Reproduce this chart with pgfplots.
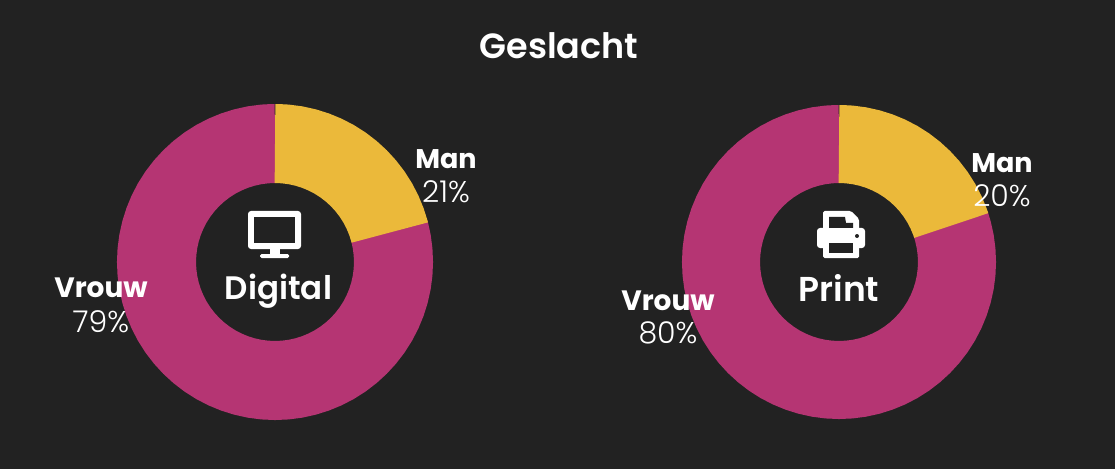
\documentclass[border=0pt]{standalone}
\usepackage{fontspec}
\setmainfont{Poppins}
\newfontfamily\lightfont{Poppins Light}
\newfontfamily\semifont{Poppins SemiBold}
\newfontfamily\boldfont{Poppins Bold}
\usepackage{pgfplots}
\pgfplotsset{compat=1.18}
\usepgfplotslibrary{polar}
\definecolor{bg}{HTML}{222222}
\definecolor{roze}{HTML}{B53573}
\definecolor{geel}{HTML}{EBB93A}

\pgfplotsset{donut/.style={
    hide axis, scale only axis, width=320pt, height=320pt,
    ymin=0, ymax=160, xmin=0, xmax=360, clip=false, anchor=origin}}

\begin{document}
\begin{tikzpicture}[x=1pt,y=1pt]
\fill[bg] (0,0) rectangle (1115,469);

% Digital: 21 / 79
\begin{polaraxis}[donut, at={(275pt,207pt)}]
\addplot[roze, line width=79pt, no marks] coordinates {
(15.4,118.5)(14.4,118.5)(10,118.5)(5,118.5)(0,118.5)(-5,118.5)(-10,118.5)(-15,118.5)(-20,118.5)(-25,118.5)(-30,118.5)(-35,118.5)
(-40,118.5)(-45,118.5)(-50,118.5)(-55,118.5)(-60,118.5)(-65,118.5)(-70,118.5)(-75,118.5)(-80,118.5)(-85,118.5)(-90,118.5)(-95,118.5)
(-100,118.5)(-105,118.5)(-110,118.5)(-115,118.5)(-120,118.5)(-125,118.5)(-130,118.5)(-135,118.5)(-140,118.5)(-145,118.5)(-150,118.5)
(-155,118.5)(-160,118.5)(-165,118.5)(-170,118.5)(-175,118.5)(-180,118.5)(-185,118.5)(-190,118.5)(-195,118.5)(-200,118.5)(-205,118.5)
(-210,118.5)(-215,118.5)(-220,118.5)(-225,118.5)(-230,118.5)(-235,118.5)(-240,118.5)(-245,118.5)(-250,118.5)(-255,118.5)(-260,118.5)
(-265,118.5)(-269,118.5)(-270,118.5)};
\addplot[geel, line width=79pt, no marks] coordinates {
(90,118.5)(89,118.5)(85,118.5)(80,118.5)(75,118.5)(70,118.5)(65,118.5)(60,118.5)(55,118.5)(50,118.5)(45,118.5)(40,118.5)
(35,118.5)(30,118.5)(25,118.5)(20,118.5)(15.4,118.5)(14.4,118.5)};
\end{polaraxis}

% Print: 20 / 80
\begin{polaraxis}[donut, at={(839pt,207pt)}]
\addplot[roze, line width=78pt, no marks] coordinates {
(19,118)(18,118)(15,118)(10,118)(5,118)(0,118)(-5,118)(-10,118)(-15,118)(-20,118)(-25,118)(-30,118)(-35,118)
(-40,118)(-45,118)(-50,118)(-55,118)(-60,118)(-65,118)(-70,118)(-75,118)(-80,118)(-85,118)(-90,118)(-95,118)
(-100,118)(-105,118)(-110,118)(-115,118)(-120,118)(-125,118)(-130,118)(-135,118)(-140,118)(-145,118)(-150,118)
(-155,118)(-160,118)(-165,118)(-170,118)(-175,118)(-180,118)(-185,118)(-190,118)(-195,118)(-200,118)(-205,118)
(-210,118)(-215,118)(-220,118)(-225,118)(-230,118)(-235,118)(-240,118)(-245,118)(-250,118)(-255,118)(-260,118)
(-265,118)(-269,118)(-270,118)};
\addplot[geel, line width=78pt, no marks] coordinates {
(90,118)(89,118)(85,118)(80,118)(75,118)(70,118)(65,118)(60,118)(55,118)(50,118)(45,118)(40,118)
(35,118)(30,118)(25,118)(20,118)(19,118)(18,118)};
\end{polaraxis}

% tekst en iconen, in pixels van boven af
\begin{scope}[shift={(0,469)},y=-1pt,x=1pt,every node/.style={white,anchor=base,inner sep=0pt}]
\node[font=\semifont\fontsize{35}{35}\selectfont] at (559,59) {Geslacht};
\node[font=\boldfont\fontsize{27}{27}\selectfont] at (446,169) {Man};
\node[font=\lightfont\fontsize{30}{30}\selectfont] at (446,203) {21\%};
\node[font=\boldfont\fontsize{28}{28}\selectfont] at (101,297) {Vrouw};
\node[font=\lightfont\fontsize{30}{30}\selectfont] at (101,332) {79\%};
\node[font=\boldfont\fontsize{27}{27}\selectfont] at (1002,173) {Man};
\node[font=\lightfont\fontsize{30}{30}\selectfont] at (1002,207) {20\%};
\node[font=\boldfont\fontsize{28}{28}\selectfont] at (668,310) {Vrouw};
\node[font=\lightfont\fontsize{30}{30}\selectfont] at (668,343) {80\%};
\node[font=\semifont\fontsize{32.5}{32.5}\selectfont] at (278.5,299) {Digital};
\node[font=\semifont\fontsize{34.5}{34.5}\selectfont] at (839,301) {Print};

% monitor
\fill[white,rounded corners=3pt] (248,211) rectangle (301,249);
\fill[bg] (254,217) rectangle (295,243);
\fill[white] (270,248) rectangle (280,255);
\fill[white,rounded corners=1.5pt] (260,254) rectangle (289,258);

% printer
\fill[white,rounded corners=1.5pt] (823,211) -- (851,211) -- (859,219) -- (859,258) -- (823,258) -- cycle;
\fill[white,rounded corners=3pt] (817,228) rectangle (865,248);
\fill[bg] (829,217) -- (845,217) -- (846,223) -- (853,223) -- (853,228) -- (829,228) -- cycle;
\fill[bg] (829,243) rectangle (853,253);
\fill[bg] (857,236) circle (2);
\end{scope}
\end{tikzpicture}
\end{document}
